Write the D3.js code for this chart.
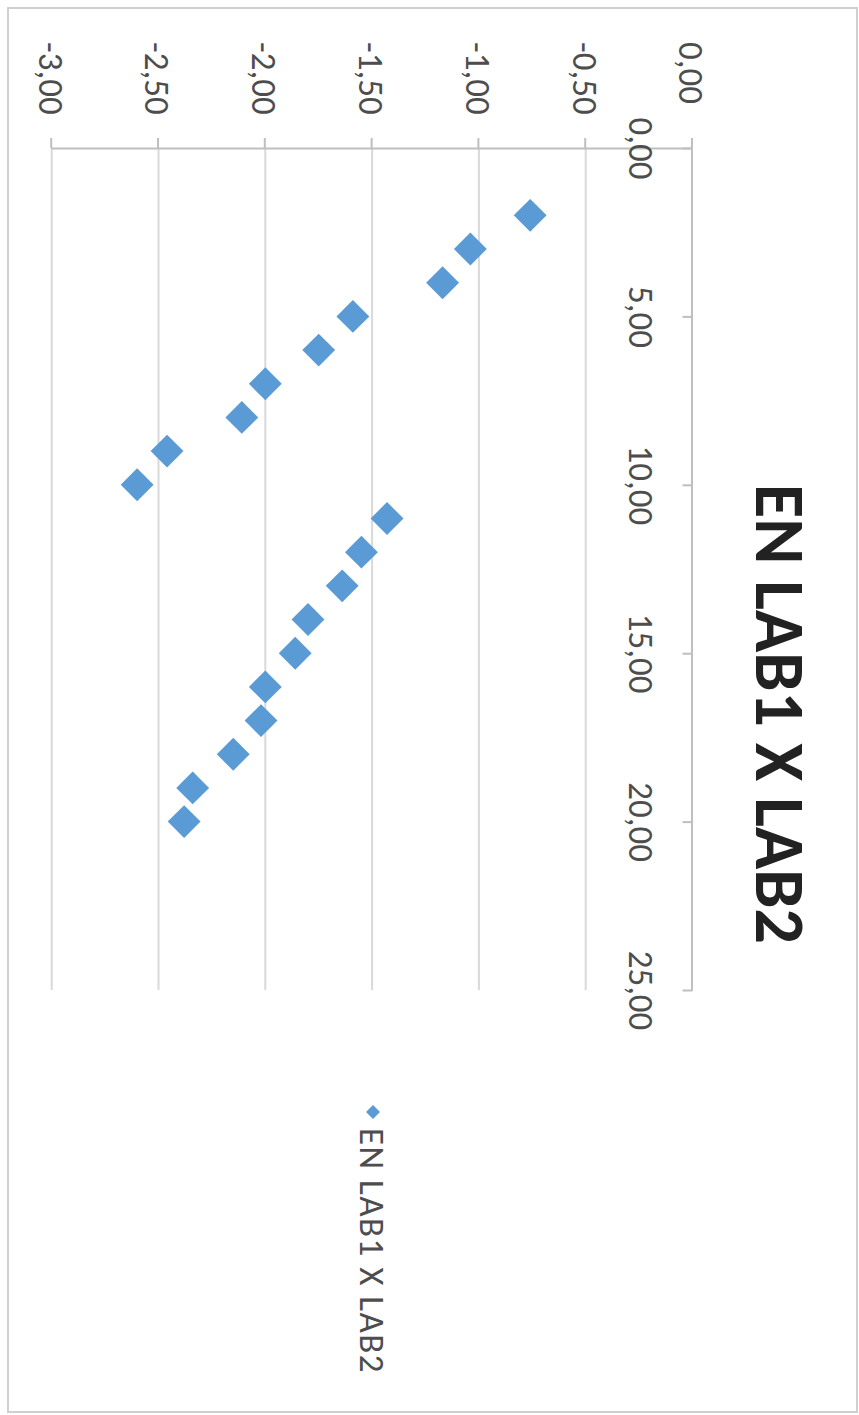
<!DOCTYPE html>
<html>
<head>
<meta charset="utf-8">
<script src="https://cdn.jsdelivr.net/npm/d3@7/dist/d3.min.js"></script>
<style>
  html, body { margin: 0; padding: 0; background: #fff; }
  svg { display: block; }
  text { font-family: Carlito, Calibri, Lato, "Open Sans", sans-serif; }
</style>
</head>
<body>
<svg id="chart" width="859" height="1415"></svg>
<script>
// Scatter series "EN LAB1 X LAB2"
const xValues = [2, 3, 4, 5, 6, 7, 8, 9, 10, 11, 12, 13, 14, 15, 16, 17, 18, 19, 20];
const yValues = [-0.76, -1.04, -1.17, -1.59, -1.75, -2.00, -2.11, -2.46, -2.60,
                 -1.43, -1.55, -1.64, -1.80, -1.86, -2.00, -2.02, -2.15, -2.34, -2.38];
const xTicks = [0, 5, 10, 15, 20, 25];
const yTicks = [-3, -2.5, -2, -1.5, -1, -0.5, 0];
const seriesName = "EN LAB1 X LAB2";
const chartTitle = "EN LAB1 X LAB2";

const PAGE_W = 859, PAGE_H = 1415;
const W = PAGE_H, H = PAGE_W;   // chart laid out landscape, then turned a quarter clockwise
const markerColor = "#5B9BD5";
const gridColor = "#D9D9D9";
const axisColor = "#BFBFBF";
const labelColor = "#4D4D4D";

const fmt = d3.formatLocale({ decimal: ",", thousands: ".", grouping: [3], currency: ["", ""], minus: "-" }).format(".2f");

const svg = d3.select("#chart");
svg.append("rect").attr("width", PAGE_W).attr("height", PAGE_H).attr("fill", "#fff");

const g = svg.append("g").attr("transform", `translate(${PAGE_W},0) rotate(90)`);

// chart area border
g.append("rect")
  .attr("x", 8).attr("y", 2)
  .attr("width", 1404).attr("height", 849)
  .attr("fill", "none").attr("stroke", "#CFCFCF").attr("stroke-width", 2);

const x = d3.scaleLinear().domain([0, 25]).range([148, 990]);
const y = d3.scaleLinear().domain([-3, 0]).range([807.3, 166.5]);

// horizontal gridlines
g.append("g").selectAll("line")
  .data(yTicks.filter(d => d !== 0))
  .join("line")
  .attr("x1", x(0)).attr("x2", x(25))
  .attr("y1", d => y(d)).attr("y2", d => y(d))
  .attr("stroke", gridColor).attr("stroke-width", 2);

// vertical axis at x = 0
const yAxis = g.append("g")
  .attr("transform", `translate(${x(0)},0)`)
  .call(d3.axisLeft(y).tickValues(yTicks).tickSize(10).tickSizeOuter(0).tickFormat(fmt));
yAxis.select(".domain").attr("stroke", axisColor).attr("stroke-width", 2);
yAxis.selectAll(".tick line").attr("stroke", axisColor).attr("stroke-width", 2);
yAxis.selectAll(".tick text")
  .attr("x", 42 - x(0))
  .attr("dy", "0.36em")
  .attr("text-anchor", "start")
  .attr("fill", labelColor)
  .style("font-size", "35px");

// horizontal axis at y = 0
const xAxis = g.append("g")
  .attr("transform", `translate(0,${y(0)})`)
  .call(d3.axisBottom(x).tickValues(xTicks).tickSize(10).tickSizeOuter(0).tickPadding(29).tickFormat(fmt));
xAxis.select(".domain").attr("stroke", axisColor).attr("stroke-width", 2);
xAxis.selectAll(".tick line").attr("stroke", axisColor).attr("stroke-width", 2);
xAxis.selectAll(".tick text")
  .attr("fill", labelColor)
  .style("font-size", "35px");

// markers
const points = xValues.map((v, i) => ({ x: v, y: yValues[i] }));
const diamond = d3.symbol(d3.symbolSquare, 540);
g.append("g").selectAll("path")
  .data(points)
  .join("path")
  .attr("d", diamond)
  .attr("transform", d => `translate(${x(d.x)},${y(d.y)}) rotate(45)`)
  .attr("fill", markerColor);

// title
g.append("text")
  .attr("x", 714).attr("y", 78)
  .attr("dy", "0.36em")
  .attr("text-anchor", "middle")
  .attr("fill", "#222")
  .style("font-size", "70px")
  .style("font-weight", "bold")
  .text(chartTitle);

// legend
const legend = g.append("g").attr("transform", `translate(1112,486)`);
legend.append("path")
  .attr("d", d3.symbol(d3.symbolSquare, 98))
  .attr("transform", "rotate(45)")
  .attr("fill", markerColor);
legend.append("text")
  .attr("x", 16).attr("dy", "0.36em")
  .attr("fill", labelColor)
  .style("font-size", "35px")
  .style("letter-spacing", "1.5px")
  .text(seriesName);
</script>
</body>
</html>
